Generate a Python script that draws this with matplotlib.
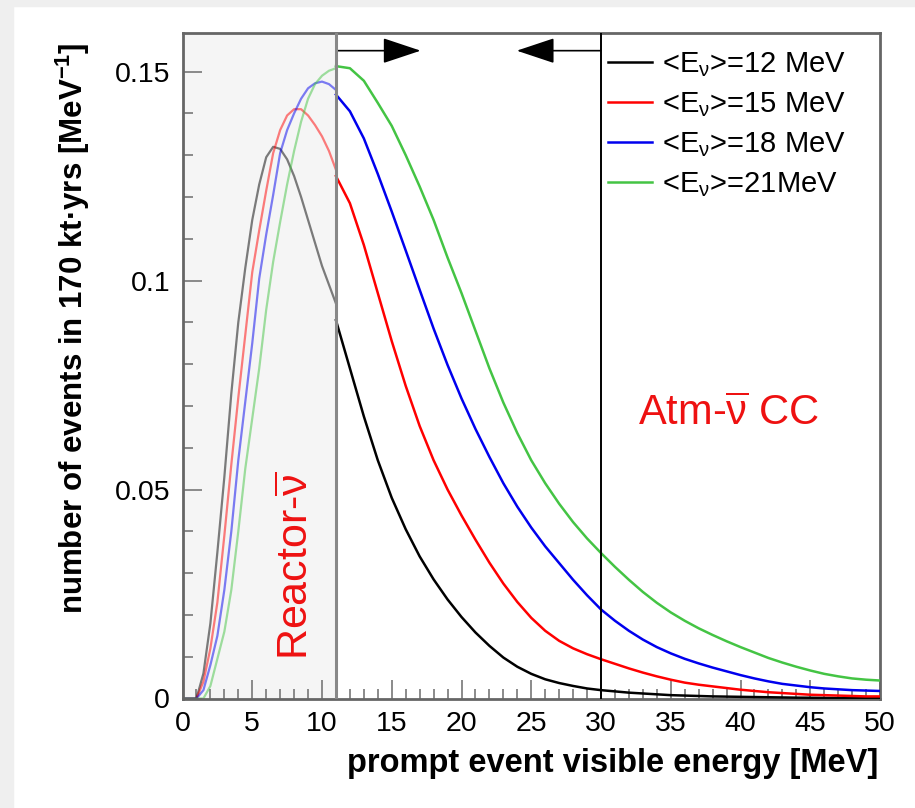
import numpy as np
import matplotlib.pyplot as plt
from matplotlib.patches import Rectangle

plt.rcParams['font.family'] = ['Liberation Sans', 'DejaVu Sans']
plt.rcParams['mathtext.fontset'] = 'custom'
plt.rcParams['mathtext.rm'] = 'Liberation Sans'
plt.rcParams['mathtext.it'] = 'Liberation Sans:italic'
plt.rcParams['mathtext.bf'] = 'Liberation Sans:bold'

# energy grid inside the reactor window (faded part) and above it
e_left = [0, 0.5, 1.0, 1.5, 2.0, 2.5, 3.0, 3.5, 4.0, 4.5, 5.0, 5.5,
          6.0, 6.5, 7.0, 7.5, 8.0, 8.5, 9.0, 9.5, 10.0, 10.5, 11.0]
e_right = list(range(11, 51))

# <Ev> = 12 MeV
black_left = [0, 0, 0, 0.006, 0.018, 0.035, 0.053, 0.073, 0.090, 0.103, 0.1145, 0.123,
              0.1295, 0.132, 0.1315, 0.129, 0.125, 0.120, 0.1145, 0.109, 0.1035, 0.099, 0.0945]
black_right = [0.0905, 0.079, 0.0675, 0.057, 0.048, 0.0405, 0.0340, 0.0285, 0.0237, 0.0195,
               0.0158, 0.0126, 0.0098, 0.0076, 0.0059, 0.0046, 0.0037, 0.0030, 0.0024, 0.0020,
               0.0017, 0.0014, 0.0012, 0.0010, 0.0008, 0.0007, 0.0006, 0.0005, 0.00045, 0.0004,
               0.00035, 0.0003, 0.00025, 0.0002, 0.00018, 0.00015, 0.00012, 0.0001, 0.0001, 0.0001]
# <Ev> = 15 MeV
red_left = [0, 0, 0, 0.004, 0.012, 0.023, 0.039, 0.056, 0.072, 0.087, 0.102, 0.112,
            0.1215, 0.1305, 0.136, 0.1395, 0.141, 0.141, 0.1395, 0.1372, 0.1345, 0.131, 0.1265]
red_right = [0.1250, 0.1185, 0.1085, 0.097, 0.0855, 0.0748, 0.0652, 0.0570, 0.0500, 0.0438,
             0.0380, 0.0325, 0.0275, 0.0231, 0.0193, 0.0162, 0.0138, 0.0120, 0.0106, 0.0094,
             0.0083, 0.0072, 0.0062, 0.0053, 0.0045, 0.0038, 0.0033, 0.0029, 0.0025, 0.0021,
             0.0018, 0.0015, 0.0013, 0.0011, 0.0009, 0.0008, 0.0007, 0.0006, 0.0005, 0.0005]
# <Ev> = 18 MeV
blue_left = [0, 0, 0, 0.002, 0.008, 0.015, 0.026, 0.040, 0.057, 0.071, 0.085, 0.1005,
             0.111, 0.1205, 0.1305, 0.136, 0.140, 0.1435, 0.146, 0.1472, 0.1476, 0.147, 0.1456]
blue_right = [0.1445, 0.1405, 0.1340, 0.1255, 0.1165, 0.1072, 0.0978, 0.0885, 0.0798, 0.0718,
              0.0645, 0.0578, 0.0515, 0.0459, 0.0409, 0.0364, 0.0324, 0.0284, 0.0247, 0.0213,
              0.0186, 0.0162, 0.0141, 0.0123, 0.0108, 0.0095, 0.0084, 0.0074, 0.0065, 0.0056,
              0.0048, 0.0041, 0.0035, 0.0031, 0.0027, 0.0024, 0.0022, 0.0020, 0.0019, 0.0018]
# <Ev> = 21 MeV
green_left = [0, 0, 0, 0.0, 0.003, 0.0095, 0.016, 0.026, 0.040, 0.055, 0.067, 0.079,
              0.093, 0.1045, 0.114, 0.123, 0.131, 0.138, 0.1435, 0.147, 0.149, 0.1502, 0.1508]
green_right = [0.1513, 0.1508, 0.1478, 0.1425, 0.137, 0.130, 0.1225, 0.1145, 0.1055, 0.097,
               0.088, 0.079, 0.0708, 0.0635, 0.057, 0.0515, 0.0466, 0.0422, 0.0383, 0.0348,
               0.0315, 0.0284, 0.0255, 0.0229, 0.0206, 0.0186, 0.0168, 0.0152, 0.0137, 0.0123,
               0.0110, 0.0097, 0.0086, 0.0076, 0.0067, 0.0059, 0.0053, 0.0048, 0.0045, 0.0043]

labels = ['<E$_{\\mathrm{\\nu}}$>=12 MeV', '<E$_{\\mathrm{\\nu}}$>=15 MeV',
          '<E$_{\\mathrm{\\nu}}$>=18 MeV', '<E$_{\\mathrm{\\nu}}$>=21MeV']
colors = ['black', '#ff0000', '#0000ee', '#44c444']

fig = plt.figure(figsize=(9.15, 8.08), dpi=100)
fig.patch.set_facecolor('white')
# light grey frame on the left and top
fig.add_artist(Rectangle((0, 0), 13 / 915, 1, transform=fig.transFigure, color='#efefef', zorder=-5))
fig.add_artist(Rectangle((0, 1 - 6 / 808), 1, 6 / 808, transform=fig.transFigure, color='#efefef', zorder=-5))

ax = fig.add_axes([182.5 / 915, 1 - 698.5 / 808, 697.5 / 915, 665.8 / 808])

ax.axvspan(0, 11, color='#f5f5f5', zorder=0)

lefts = [black_left, red_left, blue_left, green_left]
rights = [black_right, red_right, blue_right, green_right]
for yl, yr, c, lab in zip(lefts, rights, colors, labels):
    ax.plot(e_left, yl, color=c, lw=1.6, alpha=0.5, zorder=2)
    ax.plot(e_right, yr, color=c, lw=1.8, label=lab, zorder=3)

ax.axvline(11, color='#888888', lw=2.2, zorder=4)
ax.axvline(30, color='black', lw=1.4, zorder=4)

arr_y = 0.155
ax.annotate('', xy=(17.07, arr_y), xytext=(11, arr_y),
            arrowprops=dict(arrowstyle='-|>,head_length=2.4,head_width=0.8',
                            color='black', lw=1.2, shrinkA=0, shrinkB=0))
ax.annotate('', xy=(23.96, arr_y), xytext=(30, arr_y),
            arrowprops=dict(arrowstyle='-|>,head_length=2.4,head_width=0.8',
                            color='black', lw=1.2, shrinkA=0, shrinkB=0))

ax.text(8.2, 0.0092, 'Reactor-$\\overline{\\mathrm{\\nu}}$', color='#ee1111', fontsize=31,
        rotation=90, ha='center', va='bottom')
ax.text(32.65, 0.0654, 'Atm-$\\overline{\\mathrm{\\nu}}$ CC', color='#ee1111', fontsize=30,
        ha='left', va='baseline')

ax.set_xlim(0, 50)
ax.set_ylim(0, 0.1593)
ax.set_xticks(np.arange(0, 51, 5))
ax.set_xticks(np.arange(0, 51, 1), minor=True)
ax.set_yticks([0, 0.05, 0.1, 0.15])
ax.set_yticklabels(['0', '0.05', '0.1', '0.15'])
ax.set_yticks(np.arange(0, 0.155, 0.01), minor=True)
ax.tick_params(which='both', direction='in', top=False, right=False, color='#777777', width=1.2)
ax.tick_params(which='major', length=14, labelsize=20.5, pad=9)
ax.tick_params(which='minor', length=7)
for s in ax.spines.values():
    s.set_color('#666666')
    s.set_linewidth(2)

ax.set_xlabel('prompt event visible energy [MeV]', fontsize=23.5, fontweight='bold', ha='right')
ax.xaxis.set_label_coords(0.997, -0.075)
ax.set_ylabel('number of events in 170 kt·yrs [MeV$^{\\mathbf{-1}}$]', fontsize=22.5,
              fontweight='bold', ha='right')
ax.yaxis.set_label_coords(-0.13, 0.986)

ax.legend(loc='upper left', bbox_to_anchor=(0.610, 0.973), frameon=False, fontsize=21,
          handlelength=1.5, handletextpad=0.35, labelspacing=0.38, borderpad=0, borderaxespad=0)

fig.savefig('out.png', dpi=100)
